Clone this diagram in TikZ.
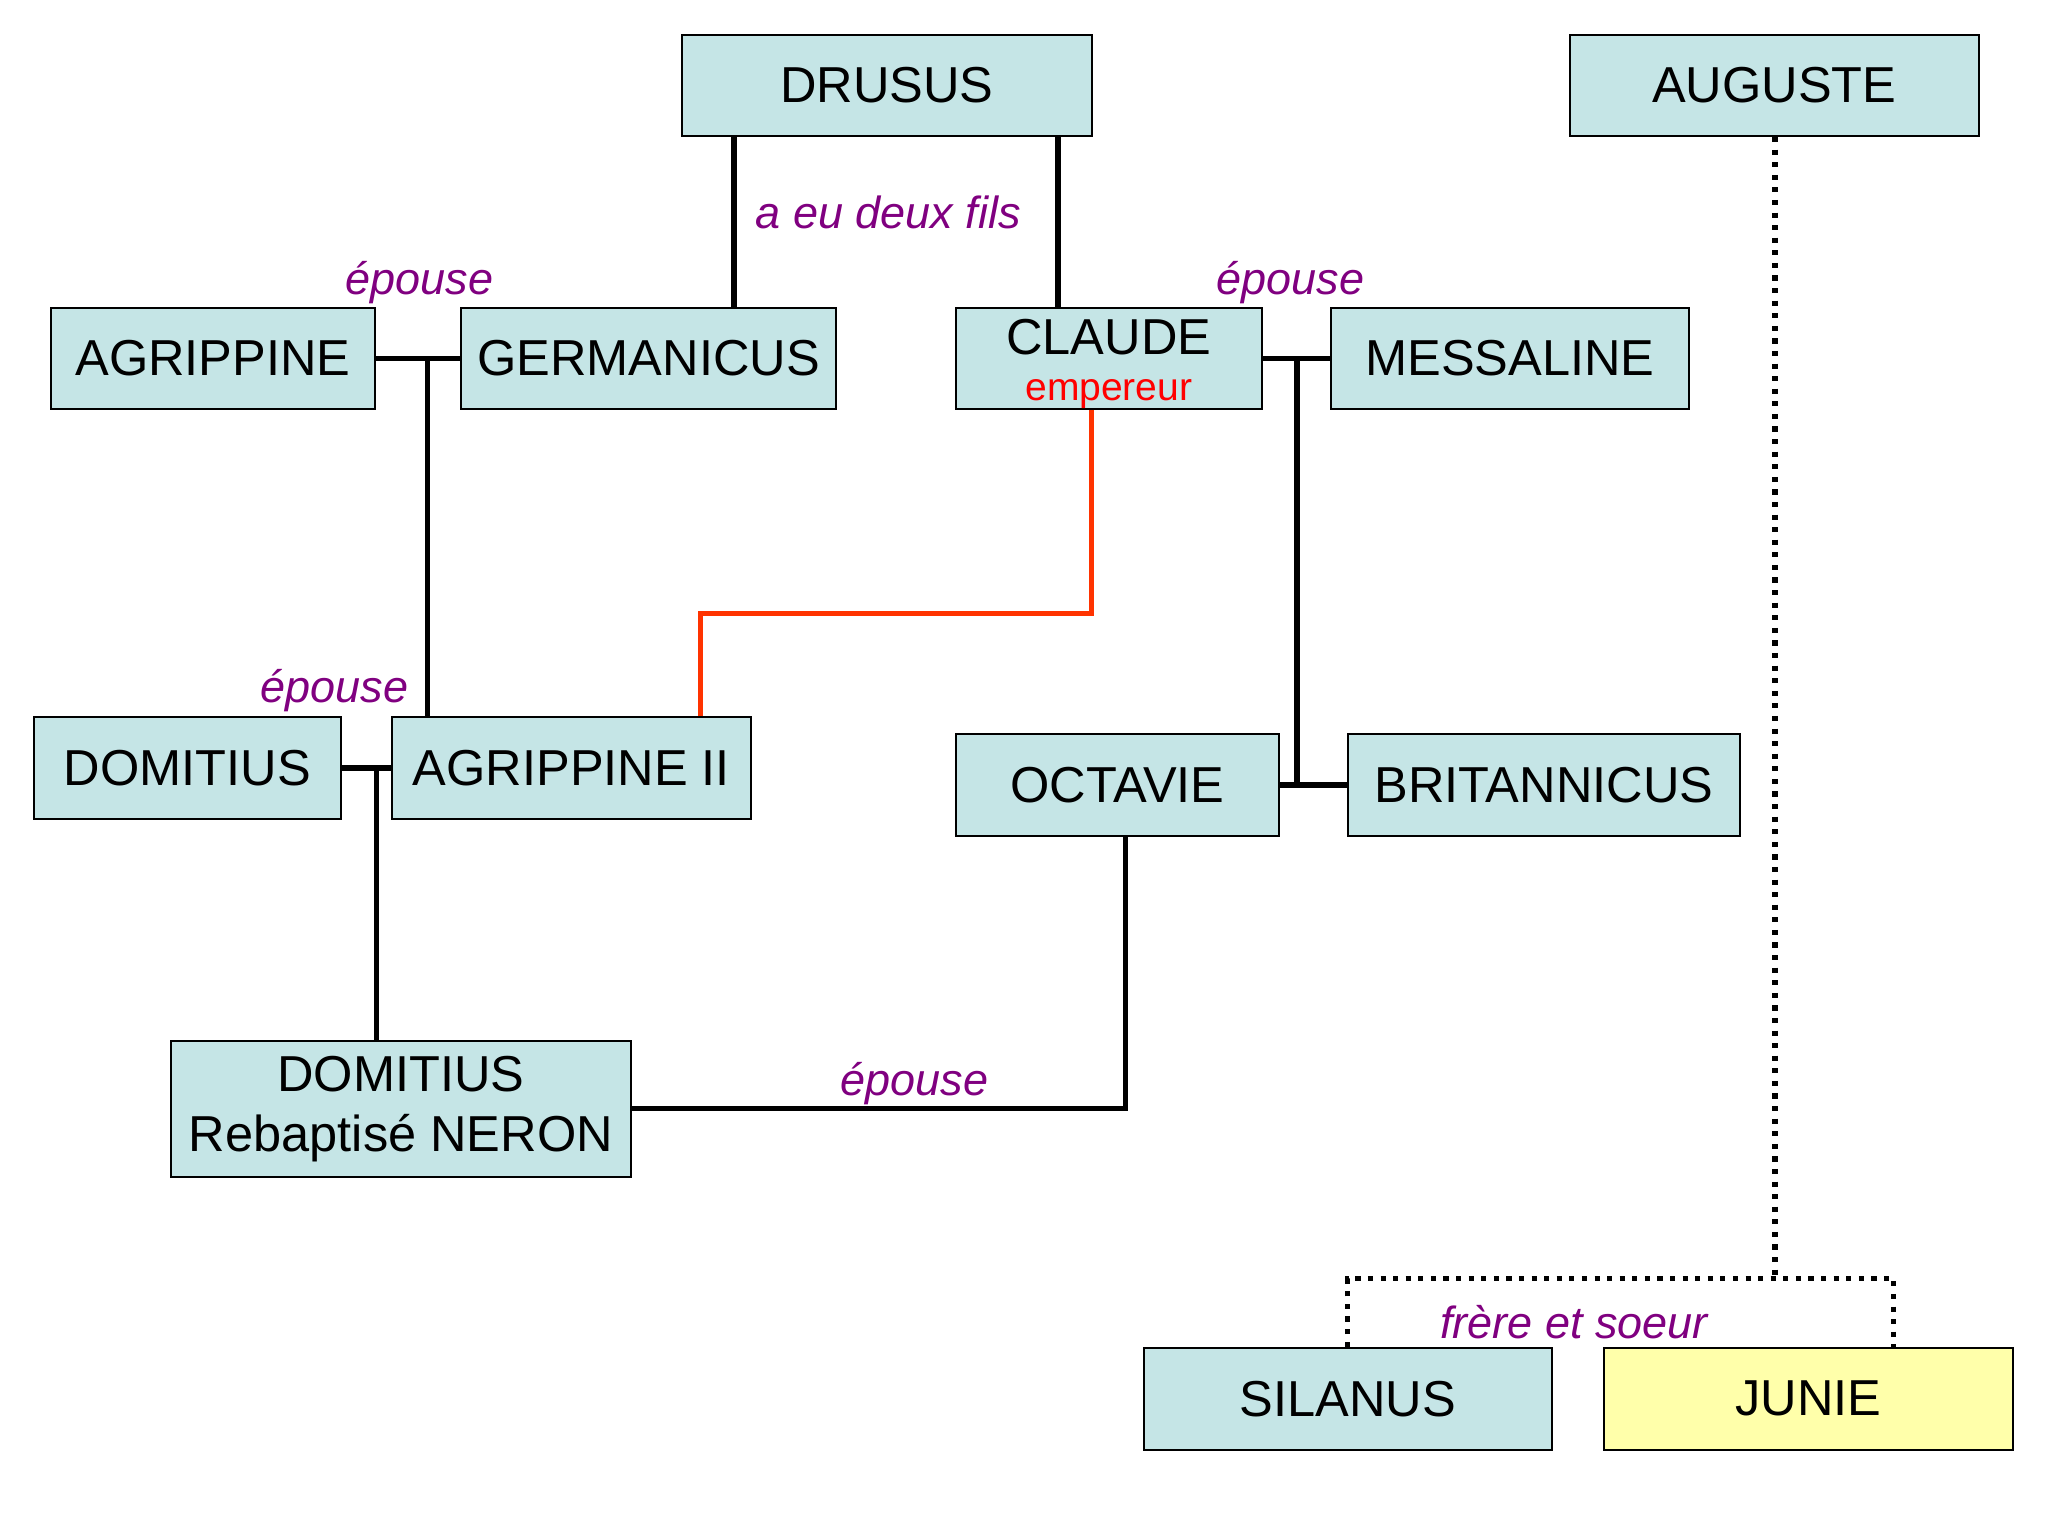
\documentclass[tikz,border=0pt]{standalone}
\usepackage{fontspec}
\setmainfont{Liberation Sans}
\definecolor{boxfill}{HTML}{C5E5E6}
\definecolor{junefill}{HTML}{FFFFAA}
\definecolor{lblpurple}{HTML}{800080}
\definecolor{redline}{HTML}{FF3300}
\begin{document}
\begin{tikzpicture}[x=0.01cm,y=-0.01cm,
  person/.style={draw=black,line width=0.5pt,fill=boxfill,inner sep=0pt,minimum height=0.77cm,
    font=\fontsize{11}{13}\selectfont,align=center},
  link/.style={line width=1.12pt,draw=black},
  redlink/.style={line width=1.12pt,draw=redline},
  dotlink/.style={line width=1.12pt,draw=black,dash pattern=on 1.12pt off 1.62pt},
  lbl/.style={inner sep=0pt,text=lblpurple,font=\fontsize{9.8}{11}\selectfont\itshape}]
\useasboundingbox (0,0) rectangle (1568,1176);
\fill[white] (0,0) rectangle (1568,1176);

% boxes
\node[person,minimum width=3.14cm] (drusus) at (679,65.5) {DRUSUS};
\node[person,minimum width=3.13cm] (auguste) at (1358.5,65.5) {AUGUSTE};
\node[person,minimum width=2.48cm] (agrippine) at (163,274.5) {AGRIPPINE};
\node[person,minimum width=2.87cm] (germanicus) at (496.5,274.5) {GERMANICUS};
\node[person,minimum width=2.34cm] (claude) at (849,274.5) {};
\node[inner sep=0pt,font=\fontsize{11}{13}\selectfont] (claudetxt) at (849,258) {CLAUDE};
\node[inner sep=0pt,text=red,font=\fontsize{8.5}{10}\selectfont] (empereur) at (849,302) {empereur};
\node[person,minimum width=2.74cm] (messaline) at (1156,274.5) {MESSALINE};
\node[person,minimum width=2.35cm,minimum height=0.78cm] (domitius) at (143.5,588) {DOMITIUS};
\node[person,minimum width=2.75cm,minimum height=0.78cm] (agrippine2) at (437.5,588) {AGRIPPINE II};
\node[person,minimum width=2.47cm,minimum height=0.78cm] (octavie) at (855.5,601) {OCTAVIE};
\node[person,minimum width=3.00cm,minimum height=0.78cm] (britannicus) at (1182,601) {BRITANNICUS};
\node[person,minimum width=3.52cm,minimum height=1.04cm] (neron) at (307,849) {DOMITIUS\\Rebaptisé NERON};
\node[person,minimum width=3.12cm,minimum height=0.78cm] (silanus) at (1032,1071) {SILANUS};
\node[person,fill=junefill,minimum width=3.13cm,minimum height=0.78cm] (junie) at (1384.5,1071) {JUNIE};

% labels
\node[lbl] (l1) at (680,163) {a eu deux fils};
\node[lbl] (l2) at (321,216) {épouse};
\node[lbl] (l3) at (988,216) {épouse};
\node[lbl] (l4) at (256,529) {épouse};
\node[lbl] (l5) at (700,830) {épouse};
\node[lbl] (l6) at (1205,1012) {frère et soeur};

% junction coordinates
\coordinate (xg) at (562,0);
\coordinate (xc) at (810,0);
\coordinate (m1) at (327,274.5);
\coordinate (m2) at (993,274.5);
\coordinate (m3) at (288,588);
\coordinate (r1) at (836,470);
\coordinate (r2) at (536,470);
\coordinate (c4) at (862,849);
\coordinate (d1) at (1359,979);
\coordinate (d2) at (1032,979);
\coordinate (d3) at (1450,979);

% connectors
\draw[link] (drusus.south -| xg) -- (germanicus.north -| xg);
\draw[link] (drusus.south -| xc) -- (claude.north -| xc);
\draw[link] (agrippine.east) -- (germanicus.west);
\draw[link] (m1) -- (agrippine2.north -| m1);
\draw[link] (claude.east) -- (messaline.west);
\draw[link] (m2) -- (m2 |- octavie.east);
\draw[link] (octavie.east) -- (britannicus.west);
\draw[link] (domitius.east) -- (agrippine2.west);
\draw[link] (m3) -- (neron.north -| m3);
\draw[link] (octavie.south -| c4) -- (c4) -- (neron.east);
\draw[redlink] (claude.south -| r1) -- (r1) -- (r2) -- (agrippine2.north -| r2);
\draw[dotlink] (auguste.south -| d1) -- (d1);
\draw[dotlink] (silanus.north -| d2) -- (d2) -- (d3) -- (junie.north -| d3);
\end{tikzpicture}
\end{document}
